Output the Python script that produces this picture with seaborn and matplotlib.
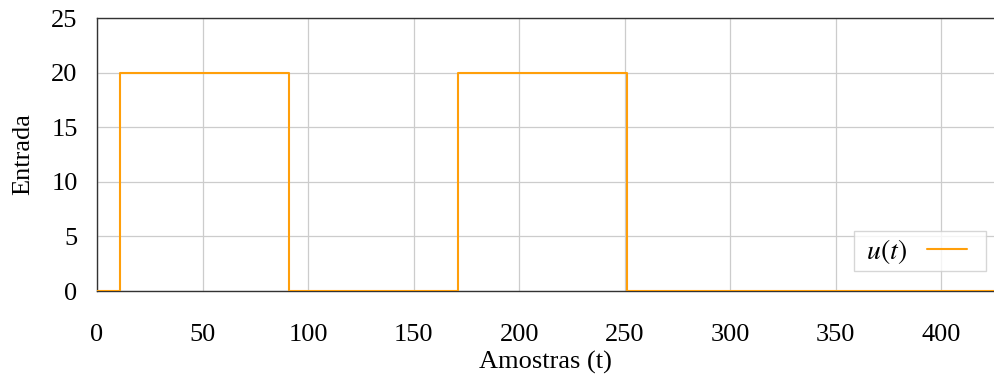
import numpy as np
import pandas as pd
import matplotlib
matplotlib.use("Agg")
import matplotlib.pyplot as plt
from matplotlib.lines import Line2D
from matplotlib.legend_handler import HandlerLine2D
import seaborn as sns

# Input signal: switching instants (samples) and the level held from each one
switch_t = [0, 11, 91, 171, 251, 425]
levels = [0, 20, 0, 20, 0, 0]

x_ticks = [0, 50, 100, 150, 200, 250, 300, 350, 400]
y_ticks = [0, 5, 10, 15, 20, 25]

sns.set_theme(style="whitegrid")
plt.rcParams["font.family"] = ["Liberation Serif", "DejaVu Serif"]
plt.rcParams["mathtext.fontset"] = "stix"
for key in ["text.color", "axes.labelcolor", "xtick.color", "ytick.color"]:
    plt.rcParams[key] = "black"

df = pd.DataFrame({"t": switch_t, "u": levels})

fig = plt.figure(figsize=(9.94, 3.76), dpi=100)
ax = fig.add_axes([0.0976, 0.226, 0.9024, 0.726])

sns.lineplot(data=df, x="t", y="u", ax=ax, drawstyle="steps-post",
             color="#ff9f0a", linewidth=1.5, label=r"$\ u(t)$", zorder=3)

ax.set_xlim(0, 425)
ax.set_ylim(0, 25)
ax.set_xticks(x_ticks)
ax.set_yticks(y_ticks)
ax.grid(True, color="#cccccc", linewidth=0.9)
ax.tick_params(axis="both", length=0, labelsize=19, colors="black")
ax.tick_params(axis="x", pad=24)
ax.tick_params(axis="y", pad=14)
ax.set_xlabel("Amostras (t)", fontsize=19, labelpad=3)
ax.set_ylabel("Entrada", fontsize=19, labelpad=12)

for side in ["left", "top", "bottom"]:
    ax.spines[side].set_color("#333333")
    ax.spines[side].set_linewidth(1.0)
ax.spines["right"].set_visible(False)

# Legend: label first, short line sample inset inside its handle box
handles, labels = ax.get_legend_handles_labels()
leg = ax.legend(handles, labels, loc="lower right",
                bbox_to_anchor=(0.991, 0.073), borderaxespad=0,
                markerfirst=False, fontsize=20, numpoints=2,
                frameon=True, fancybox=False, handlelength=2.4,
                borderpad=0.2, handletextpad=0.24,
                handler_map={Line2D: HandlerLine2D(marker_pad=0.48)})
leg.get_frame().set_edgecolor("#cccccc")
leg.get_frame().set_linewidth(1.0)

fig.savefig("out.png", dpi=100)
